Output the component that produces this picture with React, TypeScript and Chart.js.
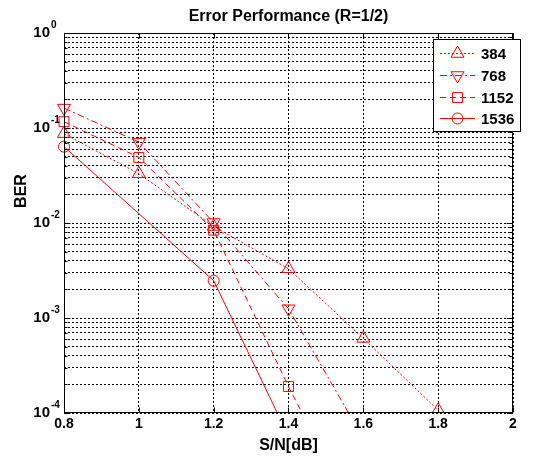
import React, { useEffect, useRef } from 'react';
import { Chart, registerables } from 'chart.js';

Chart.register(...registerables);

// ---- data ----
const snr384 = [0.8, 1.0, 1.2, 1.4, 1.6, 1.8];
const ber384 = [0.0873, 0.033, 0.0092, 0.0033, 0.00061, 0.000107];
const snr768 = [0.8, 1.0, 1.2, 1.4, 1.6];
const ber768 = [0.162, 0.071, 0.0101, 0.00125, 0.000054];
const snr1152 = [0.8, 1.0, 1.2, 1.4, 1.6];
const ber1152 = [0.1165, 0.049, 0.0084, 0.00019, 0.0000057];
const snr1536 = [0.8, 1.2, 1.4];
const ber1536 = [0.0636, 0.00247, 0.000057];
const seriesLabels = ['384', '768', '1152', '1536'];
const xTickValues = [0.8, 1.0, 1.2, 1.4, 1.6, 1.8, 2.0];
const yDecades = [-4, -3, -2, -1, 0];

const RED = '#ff0000';
const FONT = '"Liberation Sans", Arial, sans-serif';

type MarkerDef = { style: string; rot: number; r: number; dash: number[] };
const markers: MarkerDef[] = [
  { style: 'triangle', rot: 0, r: 7.5, dash: [2, 2] },
  { style: 'triangle', rot: 180, r: 7.5, dash: [7, 3, 2, 3] },
  { style: 'rect', rot: 0, r: 7, dash: [6, 4] },
  { style: 'circle', rot: 0, r: 5.5, dash: [] },
];

function drawMarker(ctx: CanvasRenderingContext2D, m: MarkerDef, x: number, y: number) {
  ctx.beginPath();
  if (m.style === 'triangle') {
    let rad = (m.rot * Math.PI) / 180;
    ctx.moveTo(x + Math.sin(rad) * m.r, y - Math.cos(rad) * m.r);
    rad += (2 * Math.PI) / 3;
    ctx.lineTo(x + Math.sin(rad) * m.r, y - Math.cos(rad) * m.r);
    rad += (2 * Math.PI) / 3;
    ctx.lineTo(x + Math.sin(rad) * m.r, y - Math.cos(rad) * m.r);
    ctx.closePath();
  } else if (m.style === 'rect') {
    const s = Math.SQRT1_2 * m.r;
    ctx.rect(x - s, y - s, 2 * s, 2 * s);
  } else {
    ctx.arc(x, y, m.r, 0, Math.PI * 2);
  }
  ctx.stroke();
}

function isDecade(v: number) {
  const e = Math.log10(v);
  return Math.abs(e - Math.round(e)) < 1e-6;
}

const decorPlugin = {
  id: 'decor',
  afterDraw(chart: any) {
    const { ctx, chartArea: a, scales } = chart;
    ctx.save();
    ctx.setLineDash([]);
    ctx.strokeStyle = '#000';
    ctx.lineWidth = 1;
    const L = Math.round(a.left) + 0.5;
    const R = Math.round(a.right) - 0.5;
    const T = Math.round(a.top) + 0.5;
    const B = Math.round(a.bottom) - 0.5;
    ctx.strokeRect(L, T, R - L, B - T);
    // tick marks
    ctx.beginPath();
    for (const t of scales.y.ticks) {
      const py = Math.round(scales.y.getPixelForValue(t.value)) + 0.5;
      const len = isDecade(t.value) ? 6 : 3;
      ctx.moveTo(L, py); ctx.lineTo(L + len, py);
      ctx.moveTo(R, py); ctx.lineTo(R - len, py);
    }
    for (const v of xTickValues) {
      const px = Math.round(scales.x.getPixelForValue(v)) + 0.5;
      ctx.moveTo(px, B); ctx.lineTo(px, B - 5);
      ctx.moveTo(px, T); ctx.lineTo(px, T + 5);
    }
    ctx.stroke();

    // exponents of the y tick labels (superscript)
    ctx.fillStyle = '#000';
    ctx.font = `bold 10px ${FONT}`;
    ctx.textAlign = 'left';
    ctx.textBaseline = 'middle';
    for (const d of yDecades) {
      const py = scales.y.getPixelForValue(Math.pow(10, d));
      ctx.fillText(String(d), 51, py - 8);
    }

    // y axis title
    ctx.font = `bold 16px ${FONT}`;
    ctx.textAlign = 'center';
    ctx.save();
    ctx.translate(22, 191);
    ctx.rotate(-Math.PI / 2);
    ctx.fillText('BER', 0, 0);
    ctx.restore();

    // legend
    const lx = 433.5, ly = 39.5, lw = 87, lh = 92;
    ctx.fillStyle = '#fff';
    ctx.fillRect(lx, ly, lw, lh);
    ctx.strokeStyle = '#000';
    ctx.strokeRect(lx, ly, lw, lh);
    seriesLabels.forEach((lab, i) => {
      const cy = Math.round(53 + i * 21.8) + 0.5;
      const m = markers[i];
      ctx.strokeStyle = RED;
      ctx.lineWidth = 1;
      ctx.setLineDash(m.dash);
      ctx.beginPath();
      ctx.moveTo(440, cy);
      ctx.lineTo(475, cy);
      ctx.stroke();
      ctx.setLineDash([]);
      drawMarker(ctx, m, 457.5, cy);
      ctx.fillStyle = '#000';
      ctx.font = `bold 15px ${FONT}`;
      ctx.textAlign = 'left';
      ctx.textBaseline = 'middle';
      ctx.fillText(lab, 481, cy + 1);
    });
    ctx.restore();
  },
};

function toPoints(xs: number[], ys: number[]) {
  return xs.map((x, i) => ({ x, y: ys[i] }));
}

export default function App() {
  const ref = useRef<HTMLCanvasElement | null>(null);
  useEffect(() => {
    if (!ref.current) return;
    const series = [
      toPoints(snr384, ber384),
      toPoints(snr768, ber768),
      toPoints(snr1152, ber1152),
      toPoints(snr1536, ber1536),
    ];
    const chart = new Chart(ref.current, {
      type: 'line',
      data: {
        datasets: series.map((d, i) => ({
          label: seriesLabels[i],
          data: d,
          borderColor: RED,
          backgroundColor: 'rgba(0,0,0,0)',
          borderWidth: 1,
          borderDash: markers[i].dash,
          fill: false,
          tension: 0,
          clip: { left: 12, top: 12, right: 12, bottom: 0 },
          pointStyle: markers[i].style as any,
          pointRotation: markers[i].rot,
          pointRadius: markers[i].r,
          pointBorderWidth: 1,
          pointBorderColor: RED,
          pointBackgroundColor: 'rgba(0,0,0,0)',
        })),
      },
      options: {
        responsive: false,
        animation: false,
        layout: { padding: { left: 0, right: 22, top: 0, bottom: 0 } },
        plugins: {
          legend: { display: false },
          tooltip: { enabled: false },
          title: {
            display: true,
            text: 'Error Performance (R=1/2)',
            color: '#000',
            fullSize: false,
            font: { family: FONT, size: 16, weight: 'bold' },
            padding: { top: 7, bottom: 6.8 },
          },
        },
        scales: {
          x: {
            type: 'linear',
            min: 0.8,
            max: 2,
            afterBuildTicks: (s: any) => {
              s.ticks = xTickValues.map((v) => ({ value: v }));
            },
            afterFit: (s: any) => {
              s.height = 44;
            },
            ticks: {
              autoSkip: false,
              maxRotation: 0,
              padding: 3,
              color: '#000',
              font: { family: FONT, size: 14, weight: 'bold' },
              callback: (v: any) => String(Math.round(Number(v) * 10) / 10),
            },
            grid: { color: '#000', lineWidth: 1, drawTicks: false },
            border: { display: false, dash: [2, 2] },
            title: {
              display: true,
              text: 'S/N[dB]',
              color: '#000',
              font: { family: FONT, size: 16, weight: 'bold' },
              padding: { top: 0, bottom: 2 },
            },
          },
          y: {
            type: 'logarithmic',
            min: 1e-4,
            max: 1,
            afterBuildTicks: (s: any) => {
              const t: any[] = [];
              for (let k = 0; k < yDecades.length - 1; k++) {
                for (let m = 1; m <= 9; m++) t.push({ value: m * Math.pow(10, yDecades[k]) });
              }
              t.push({ value: 1 });
              s.ticks = t;
            },
            afterFit: (s: any) => {
              s.width = 64;
            },
            ticks: {
              autoSkip: false,
              padding: 14,
              color: '#000',
              font: { family: FONT, size: 15, weight: 'bold' },
              callback: (v: any) => (isDecade(Number(v)) ? '10' : ''),
            },
            grid: { color: '#000', lineWidth: 1, drawTicks: false },
            border: { display: false, dash: [2, 2] },
          },
        },
      },
      plugins: [decorPlugin],
    } as any);
    return () => chart.destroy();
  }, []);
  return (
    <div style={{ position: 'fixed', left: 0, top: 0, width: 535, height: 457, background: '#fff' }}>
      <canvas ref={ref} width={535} height={457} style={{ display: 'block' }} />
    </div>
  );
}
